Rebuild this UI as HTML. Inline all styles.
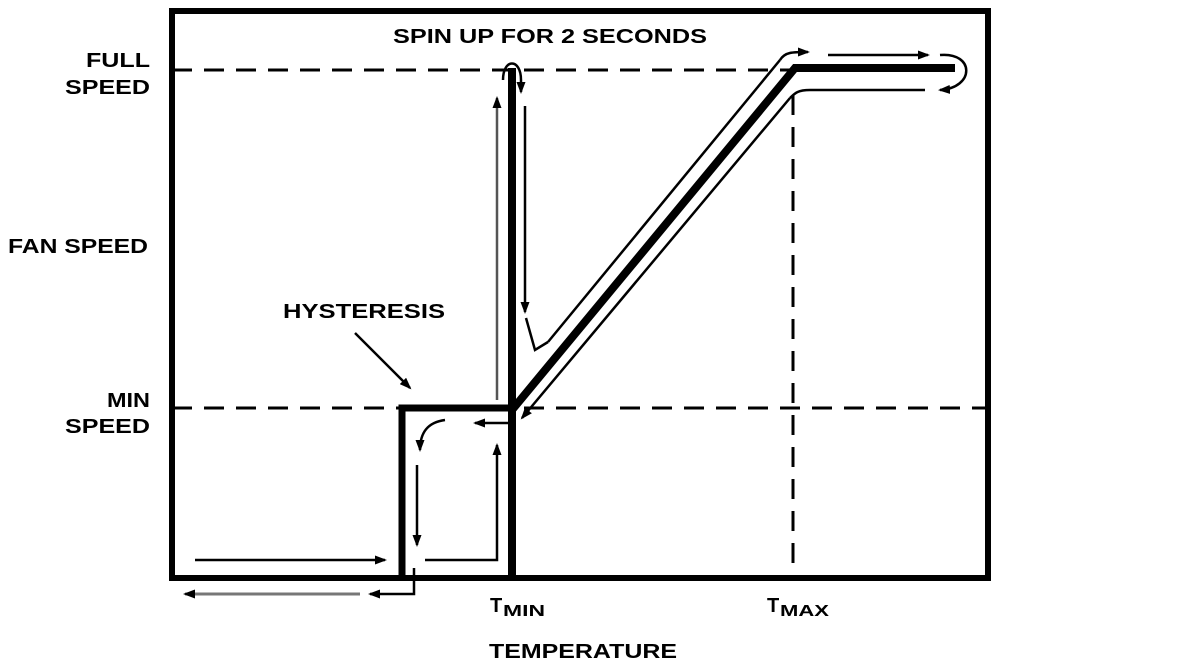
<!DOCTYPE html>
<html><head><style>
html,body{margin:0;padding:0;background:#fff;}
svg{display:block;}
text{font-family:"Liberation Sans",Arial,sans-serif;font-weight:bold;fill:#000;}
</style></head><body>
<svg width="1200" height="672" viewBox="0 0 1200 672" xmlns="http://www.w3.org/2000/svg">
<defs>
<marker id="ah" markerWidth="12" markerHeight="9" refX="10" refY="4.5" orient="auto" markerUnits="userSpaceOnUse">
<path d="M0,0 L12,4.5 L0,9 Z" fill="#000"/></marker>
</defs>
<rect x="172" y="11" width="816" height="567" fill="none" stroke="#000" stroke-width="6"/>
<line x1="172" y1="70" x2="790" y2="70" stroke="#000" stroke-width="3" stroke-dasharray="20,12"/>
<line x1="172" y1="408" x2="988" y2="408" stroke="#000" stroke-width="3" stroke-dasharray="20,12"/>
<line x1="793" y1="95" x2="793" y2="578" stroke="#000" stroke-width="3" stroke-dasharray="20,12"/>
<polyline points="402,578 402,408 512,408" fill="none" stroke="#000" stroke-width="7"/>
<line x1="512" y1="578" x2="512" y2="68" stroke="#000" stroke-width="8"/>
<polyline points="512,410 795,68 955,68" fill="none" stroke="#000" stroke-width="8"/>
<line x1="497" y1="400" x2="497" y2="98" stroke="#555" stroke-width="2.5" marker-end="url(#ah)"/>
<path d="M503,80 C503,58 521,58 521,80 L521,92" fill="none" stroke="#000" stroke-width="2.5" marker-end="url(#ah)"/>
<line x1="525" y1="106" x2="525" y2="312" stroke="#000" stroke-width="2.5" marker-end="url(#ah)"/>
<path d="M526,318 L535,350 L548,342" fill="none" stroke="#000" stroke-width="2.5"/>
<line x1="548" y1="342" x2="780" y2="60" stroke="#000" stroke-width="2.5"/>
<path d="M780,60 C785,52 792,52 808,52" fill="none" stroke="#000" stroke-width="2.5" marker-end="url(#ah)"/>
<line x1="828" y1="55" x2="928" y2="55" stroke="#000" stroke-width="2.5" marker-end="url(#ah)"/>
<path d="M940,55 C975,52 975,88 940,90" fill="none" stroke="#000" stroke-width="2.5" marker-end="url(#ah)"/>
<line x1="925" y1="90" x2="810" y2="90" stroke="#000" stroke-width="2.5"/>
<path d="M810,90 C798,90 795,93 790,98" fill="none" stroke="#000" stroke-width="2.5"/>
<line x1="790" y1="98" x2="522" y2="418" stroke="#000" stroke-width="2.5" marker-end="url(#ah)"/>
<line x1="355" y1="333" x2="410" y2="388" stroke="#000" stroke-width="2.5" marker-end="url(#ah)"/>
<line x1="510" y1="423" x2="475" y2="423" stroke="#000" stroke-width="2.5" marker-end="url(#ah)"/>
<path d="M445,420 C430,422 420,430 420,450" fill="none" stroke="#000" stroke-width="2.5" marker-end="url(#ah)"/>
<line x1="417" y1="465" x2="417" y2="545" stroke="#000" stroke-width="2.5" marker-end="url(#ah)"/>
<polyline points="425,560 497,560 497,445" fill="none" stroke="#000" stroke-width="2.5" marker-end="url(#ah)"/>
<line x1="195" y1="560" x2="385" y2="560" stroke="#000" stroke-width="2.5" marker-end="url(#ah)"/>
<polyline points="414,568 414,594 370,594" fill="none" stroke="#000" stroke-width="2.5" marker-end="url(#ah)"/>
<line x1="360" y1="594" x2="185" y2="594" stroke="#777" stroke-width="3" marker-end="url(#ah)"/>
<g font-size="20">
<text x="86" y="67" textLength="64" lengthAdjust="spacingAndGlyphs">FULL</text>
<text x="65" y="94" textLength="85" lengthAdjust="spacingAndGlyphs">SPEED</text>
<text x="8" y="253" textLength="140" lengthAdjust="spacingAndGlyphs">FAN SPEED</text>
<text x="107" y="407" textLength="43" lengthAdjust="spacingAndGlyphs">MIN</text>
<text x="65" y="433" textLength="85" lengthAdjust="spacingAndGlyphs">SPEED</text>
<text x="393" y="43" textLength="314" lengthAdjust="spacingAndGlyphs">SPIN UP FOR 2 SECONDS</text>
<text x="283" y="318" textLength="162" lengthAdjust="spacingAndGlyphs">HYSTERESIS</text>
<text x="489" y="658" textLength="188" lengthAdjust="spacingAndGlyphs">TEMPERATURE</text>
<text x="490" y="612">T</text><text x="503" y="616" font-size="16" textLength="42" lengthAdjust="spacingAndGlyphs">MIN</text>
<text x="767" y="612">T</text><text x="780" y="616" font-size="16" textLength="49" lengthAdjust="spacingAndGlyphs">MAX</text>
</g>
</svg>
</body></html>
